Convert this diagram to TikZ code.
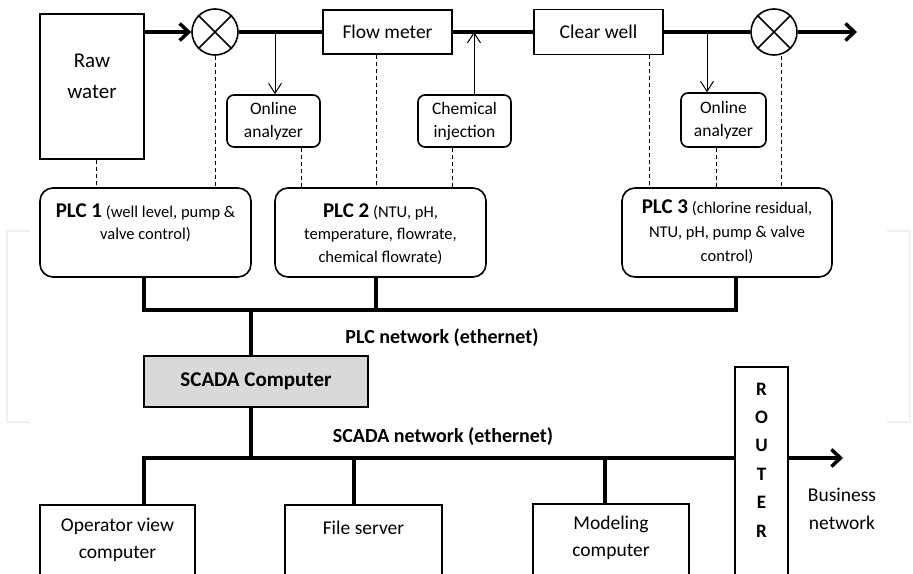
\documentclass[tikz,border=0pt]{standalone}
\usepackage{fontspec}
\setmainfont{Carlito}
\usetikzlibrary{arrows.meta}
\definecolor{scadagray}{HTML}{D9D9D9}
\definecolor{faint}{HTML}{F0F0F0}
\begin{document}
\begin{tikzpicture}[x=1pt,y=-1pt,
  box/.style={draw, line width=1.6pt, inner sep=0pt, align=center},
  rbox/.style={box, rounded corners=7pt},
  plcbox/.style={box, rounded corners=13pt, minimum height=89pt},
  txt/.style={inner sep=0pt, align=center},
  big/.style={font=\fontsize{19.5}{27}\selectfont},
  small/.style={font=\fontsize{17.5}{23}\selectfont},
  flow/.style={line width=3.5pt},
  flowarr/.style={flow, -{Straight Barb[length=9pt,width=17pt]}},
  thinarr/.style={line width=1pt, -{Straight Barb[length=10pt,width=13pt]}},
  dashl/.style={line width=1pt, dash pattern=on 4pt off 3pt},
  bus/.style={line width=3.5pt},
  valve/.style={circle, draw, line width=1.6pt, minimum size=46pt, inner sep=0pt},
  netlabel/.style={txt, font=\bfseries\fontsize{20}{24}\selectfont}
]
\useasboundingbox (0,0) rectangle (913,573);
\clip (0,0) rectangle (913,573);

% faint side brackets
\draw[faint, line width=2.5pt] (30,231) -- (7,231) -- (7,422) -- (30,422);
\draw[faint, line width=2.5pt] (887,231) -- (910,231) -- (910,422) -- (887,422);

% top process line
\node[box, minimum width=104pt, minimum height=145pt] (raw) at (92,86.5) {};
\node[txt, font=\fontsize{21}{31}\selectfont] (rawt) at (92,76) {Raw\\water};
\node[valve] (v1) at (215,32) {};
\draw[line width=1.6pt] (v1.north west) -- (v1.south east) (v1.north east) -- (v1.south west);
\node[box, big, minimum width=129pt, minimum height=44pt] (fm) at (387.5,32) {Flow meter};
\node[box, big, minimum width=129pt, minimum height=45pt] (cw) at (598.5,32) {Clear well};
\node[valve] (v2) at (774,32) {};
\draw[line width=1.6pt] (v2.north west) -- (v2.south east) (v2.north east) -- (v2.south west);
\coordinate (out) at (857,32);

\draw[flowarr] (raw.east |- v1.west) -- (v1.west);
\draw[flow] (v1.east) -- (fm.west);
\draw[flow] (fm.east) -- (cw.west);
\draw[flow] (cw.east) -- (v2.west);
\draw[flowarr] (v2.east) -- (out);

% analyzers / injection
\node[rbox, small, minimum width=93pt, minimum height=52pt] (oa1) at (273.5,121) {Online\\analyzer};
\node[rbox, small, minimum width=93pt, minimum height=52pt] (chem) at (464.5,121) {Chemical\\injection};
\node[rbox, small, minimum width=85pt, minimum height=54pt] (oa2) at (723.5,120) {Online\\analyzer};
\coordinate (b1) at (275,32);
\coordinate (b2) at (474,32);
\coordinate (b3) at (707,32);
\draw[thinarr] (b1) -- (oa1.north -| b1);
\draw[thinarr] (chem.north -| b2) -- (b2);
\draw[thinarr] (b3) -- (oa2.north -| b3);

% PLCs
\node[plcbox, minimum width=211pt] (plc1) at (145.5,232.5) {};
\node[plcbox, minimum width=211pt] (plc2) at (380.5,232.5) {};
\node[plcbox, minimum width=210pt] (plc3) at (727,232.5) {};
\node[txt, font=\fontsize{16.5}{22.5}\selectfont] (plc1t) at (145.5,223) {{\bfseries\fontsize{21}{22.5}\selectfont PLC 1} (well level, pump \&\\valve control)};
\node[txt, font=\fontsize{16.5}{22.5}\selectfont] (plc2t) at (380.5,234) {{\bfseries\fontsize{21}{22.5}\selectfont PLC 2} (NTU, pH,\\temperature, flowrate,\\chemical flowrate)};
\node[txt, font=\fontsize{16.5}{24}\selectfont] (plc3t) at (727,232) {{\bfseries\fontsize{21}{24}\selectfont PLC 3} (chlorine residual,\\NTU, pH, pump \& valve\\control)};

% dashed signal lines
\draw[dashl] (raw.south -| 96,0) -- (plc1.north -| 96,0);
\draw[dashl] (v1.south) -- (plc1.north -| v1.south);
\draw[dashl] (oa1.south -| 301,0) -- (plc2.north -| 301,0);
\draw[dashl] (fm.south -| 376,0) -- (plc2.north -| 376,0);
\draw[dashl] (chem.south -| 452,0) -- (plc2.north -| 452,0);
\draw[dashl] (cw.south -| 649,0) -- (plc3.north -| 649,0);
\draw[dashl] (oa2.south -| 716,0) -- (plc3.north -| 716,0);
\draw[dashl] (v2.south -| 781,0) -- (plc3.north -| 781,0);

% PLC network
\coordinate (pbL) at (144,310);
\coordinate (pbR) at (736,310);
\coordinate (pbS) at (251,310);
\draw[bus] (plc1.south -| pbL) -- (pbL) -- (pbR) -- (plc3.south -| pbR);
\draw[bus] (plc2.south -| 376,0) -- (376,310);
\node[netlabel] (plcnet) at (442,338) {PLC network (ethernet)};

% SCADA computer
\node[box, fill=scadagray, minimum width=224pt, minimum height=51pt, font=\bfseries\fontsize{21}{25}\selectfont] (scada) at (256,381.5) {SCADA Computer};
\draw[bus] (pbS) -- (scada.north -| pbS);

% SCADA network
\node[box, minimum width=53pt, minimum height=230pt, anchor=north] (router) at (761.5,366) {};
\node[txt, font=\bfseries\fontsize{19}{28.4}\selectfont] (routert) at (761.5,460) {R\\O\\U\\T\\E\\R};
\node[box, big, minimum width=155pt, minimum height=90pt, anchor=north] (op) at (117.5,504) {};
\node[txt, big] (opt) at (117.5,539.5) {Operator view\\computer};
\node[box, big, minimum width=157pt, minimum height=90pt, anchor=north] (fs) at (363.5,504) {};
\node[txt, big] (fst) at (363.5,528) {File server};
\node[box, big, minimum width=156pt, minimum height=90pt, anchor=north] (mod) at (611,503) {};
\node[txt, big] (modt) at (611,537.5) {Modeling\\computer};
\node[txt, font=\fontsize{19.5}{28}\selectfont] (biz) at (842,509) {Business\\network};
\node[netlabel] (scadanet) at (443,437) {SCADA network (ethernet)};

\coordinate (sbL) at (144,458);
\coordinate (bizout) at (843,458);
\draw[bus] (scada.south -| 251,0) -- (251,458);
\draw[bus] (op.north -| sbL) -- (sbL) -- (sbL -| router.west);
\draw[bus] (fs.north -| 354,0) -- (354,458);
\draw[bus] (mod.north -| 605,0) -- (605,458);
\draw[flowarr] (sbL -| router.east) -- (bizout);
\end{tikzpicture}
\end{document}
